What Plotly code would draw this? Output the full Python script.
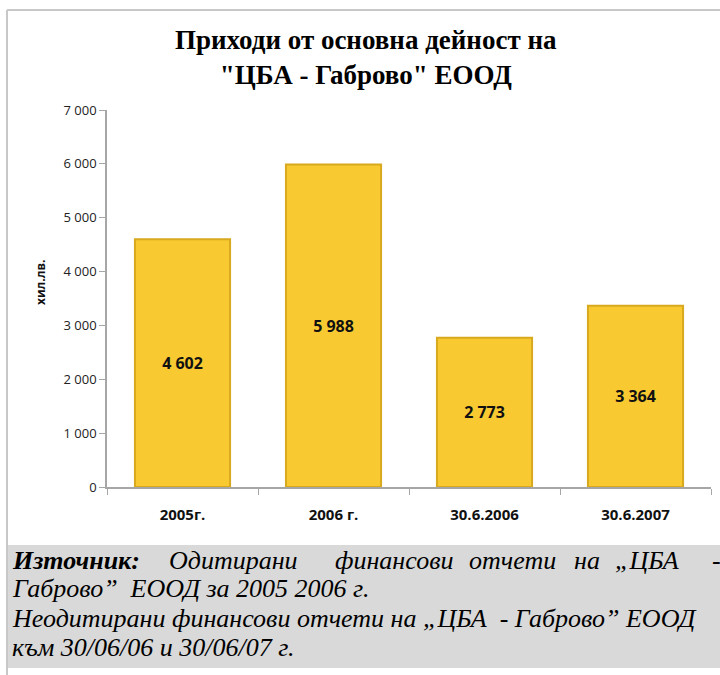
import plotly.graph_objects as go

categories = ["2005г.", "2006 г.", "30.6.2006", "30.6.2007"]
values = [4602, 5988, 2773, 3364]
value_labels = ["4 602", "5 988", "2 773", "3 364"]
tick_vals = [0, 1000, 2000, 3000, 4000, 5000, 6000, 7000]
tick_text = ["0", "1 000", "2 000", "3 000", "4 000", "5 000", "6 000", "7 000"]

title_text = "Приходи от основна дейност на<br>\"ЦБА - Габрово\" ЕООД"
y_title = "хил.лв."
source_line1 = ["<b>Източник:</b>", "Одитирани", "финансови", "отчети", "на", "„ЦБА", "-"]
source_line2 = "Габрово”  ЕООД за 2005 2006 г."
source_line3 = "Неодитирани финансови отчети на „ЦБА  - Габрово” ЕООД"
source_line4 = "към 30/06/06 и 30/06/07 г."

W, H = 720, 675
L, R, T, B = 107, 711, 110, 487


def px(x):
    return (x - L) / (R - L)


def py(y):
    return (B - y) / (B - T)


fig = go.Figure()
fig.add_trace(go.Bar(
    x=categories, y=values, text=["<b>" + t + "</b>" for t in value_labels],
    textposition="inside", insidetextanchor="middle",
    textfont=dict(family="Open Sans, DejaVu Sans, sans-serif", size=16, color="#111111"),
    marker=dict(color="#F8C931", line=dict(color="#D8A91E", width=2)),
    width=0.63,
    hoverinfo="skip",
))

fig.update_layout(
    width=W, height=H,
    margin=dict(l=L, r=W - R, t=T, b=H - B),
    paper_bgcolor="white", plot_bgcolor="white",
    showlegend=False,
    xaxis=dict(
        showline=True, linecolor="#A6A6A6", linewidth=1.5,
        showgrid=False, ticks="outside", tickson="boundaries", ticklen=6, tickcolor="#A6A6A6",
        ticklabelstandoff=13,
        tickfont=dict(family="Open Sans, DejaVu Sans, sans-serif", size=15, color="#111111"),
        tickprefix="<b>", ticksuffix="</b>",
        range=[-0.5, 3.5],
    ),
    yaxis=dict(
        range=[0, 7000], tickvals=tick_vals, ticktext=tick_text,
        showline=True, linecolor="#A6A6A6", linewidth=1.5,
        showgrid=False, ticks="outside", ticklen=6, tickcolor="#A6A6A6",
        tickfont=dict(family="Open Sans, DejaVu Sans, sans-serif", size=13, color="#222222"),
        zeroline=False,
    ),
    shapes=[
        dict(type="line", xref="paper", yref="paper", x0=px(7), x1=px(720), y0=py(10), y1=py(10),
             line=dict(color="#C8C8C8", width=2)),
        dict(type="line", xref="paper", yref="paper", x0=px(7), x1=px(7), y0=py(10), y1=py(675),
             line=dict(color="#C8C8C8", width=2)),
        dict(type="rect", xref="paper", yref="paper", x0=px(8), x1=px(720), y0=py(545), y1=py(668),
             fillcolor="#D9D9D9", line=dict(width=0), layer="below"),
    ],
)

annotations = [
    dict(text="<b>" + title_text + "</b>", x=px(366), y=py(58), xref="paper", yref="paper",
         showarrow=False, xanchor="center", yanchor="middle",
         font=dict(family="Liberation Serif, serif", size=27, color="#000000")),
    dict(text="<b>" + y_title + "</b>", x=px(40), y=py(283), xref="paper", yref="paper",
         showarrow=False, textangle=-90, xanchor="center", yanchor="middle",
         font=dict(family="Open Sans, DejaVu Sans, sans-serif", size=12, color="#111111")),
]

src_font = dict(family="Liberation Serif, serif", size=26, color="#000000")
word_x = [10, 167, 333, 467, 572, 613, 710]
for w, xx in zip(source_line1, word_x):
    annotations.append(dict(text="<i>" + w + "</i>", x=px(xx), y=py(560), xref="paper", yref="paper",
                            showarrow=False, xanchor="left", yanchor="middle", font=src_font))
for line, yy in [(source_line2, 588), (source_line3, 618), (source_line4, 647)]:
    annotations.append(dict(text="<i>" + line + "</i>", x=px(10), y=py(yy), xref="paper", yref="paper",
                            showarrow=False, xanchor="left", yanchor="middle", font=src_font))

fig.update_layout(annotations=annotations)
fig.write_html("out.html")
